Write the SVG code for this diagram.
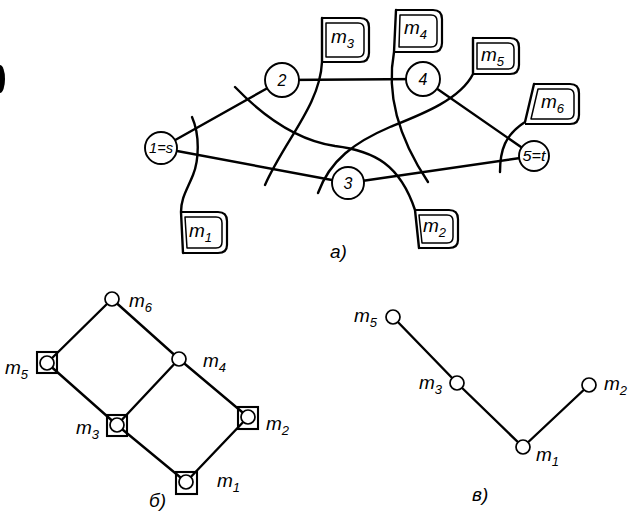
<svg xmlns="http://www.w3.org/2000/svg" width="634" height="516" viewBox="0 0 634 516">
<style>
.ln{fill:none;stroke:#000;stroke-width:2.4;stroke-linecap:round;stroke-linejoin:round}
.bx{fill:none;stroke:#000;stroke-width:2.2;stroke-linejoin:round}
.bi{fill:none;stroke:#000;stroke-width:1.5;stroke-linejoin:round}
.nd{fill:#fff;stroke:#000;stroke-width:1.9}
.sm{fill:#fff;stroke:#000;stroke-width:1.7}
.sq{fill:none;stroke:#000;stroke-width:2.1}
.t{font-family:"Liberation Sans",Arial,sans-serif;font-style:italic;fill:#000}
.m{font-size:19px}
.n{font-size:16px}
.ns{font-size:14px}
.s{font-size:13px}
</style>
<rect width="634" height="516" fill="#fff"/>
<ellipse cx="0" cy="79" rx="5" ry="14" fill="#000"/>

<g id="edges-a">
<line class="ln" x1="161" y1="148" x2="282" y2="80"/>
<line class="ln" x1="161" y1="148" x2="348" y2="183"/>
<line class="ln" x1="282" y1="80" x2="423" y2="79"/>
<line class="ln" x1="423" y1="79" x2="534" y2="156"/>
<line class="ln" x1="348" y1="183" x2="534" y2="156"/>
</g>

<g id="cuts">
<path class="ln" d="M192,117 C200,135 199,160 193,175 C187,190 181,198 181,212 L183,253"/>
<path class="ln" d="M235,87 C262,115 295,140 335,146 C375,151 400,165 415,210 L419,248"/>
<path class="ln" d="M322,18 L322,62 C320,105 285,140 265,185"/>
<path class="ln" d="M396,10 L394,52 C386,95 400,140 428,182"/>
<path class="ln" d="M473,38 L473,74 C460,100 420,115 390,127 C355,142 330,160 318,193"/>
<path class="ln" d="M534,84 L525,122 C505,135 500,150 500,172"/>
</g>

<g id="m1-box">
<path class="bx" d="M181,212 H218 Q227,212 227,221 V245 Q227,253 218,253 H183"/>
<path class="bi" d="M185,217 H216 Q222,217 222,223 V242 Q222,248 216,248 H187 Z"/>
<text class="t m" x="189" y="237">m<tspan class="s" dy="5">1</tspan></text>
</g>
<g id="m2-box">
<path class="bx" d="M415,210 H449 Q458,210 458,219 V240 Q458,248 449,248 H419"/>
<path class="bi" d="M419,215 H447 Q453,215 453,221 V237 Q453,243 447,243 H422 Z"/>
<text class="t m" x="423" y="232">m<tspan class="s" dy="5">2</tspan></text>
</g>
<g id="m3-box">
<path class="bx" d="M322,18 H360 Q369,18 369,27 V53 Q369,62 360,62 H322"/>
<path class="bi" d="M326,23 H358 Q364,23 364,29 V51 Q364,57 358,57 H326 Z"/>
<text class="t m" x="331" y="43">m<tspan class="s" dy="5">3</tspan></text>
</g>
<g id="m4-box">
<path class="bx" d="M396,10 H433 Q442,10 442,19 V43 Q442,52 433,52 H394"/>
<path class="bi" d="M400,15 H431 Q437,15 437,21 V41 Q437,47 431,47 H399 Z"/>
<text class="t m" x="404" y="34">m<tspan class="s" dy="5">4</tspan></text>
</g>
<g id="m5-box">
<path class="bx" d="M473,38 H510 Q519,38 519,47 V65 Q519,74 510,74 H473"/>
<path class="bi" d="M477,43 H508 Q514,43 514,49 V63 Q514,69 508,69 H477 Z"/>
<text class="t m" x="481" y="61">m<tspan class="s" dy="5">5</tspan></text>
</g>
<g id="m6-box">
<path class="bx" d="M534,84 H570 Q579,84 579,93 V115 Q579,124 570,124 H525"/>
<path class="bi" d="M538,89 H568 Q574,89 574,95 V113 Q574,119 568,119 H531 Z"/>
<text class="t m" x="541" y="108">m<tspan class="s" dy="5">6</tspan></text>
</g>

<g id="n1"><circle class="nd" cx="161" cy="148" r="16"/><text class="t ns" x="161" y="153" text-anchor="middle" textLength="24" lengthAdjust="spacingAndGlyphs">1=s</text></g>
<g id="n2"><circle class="nd" cx="282" cy="80" r="17"/><text class="t n" x="282" y="86" text-anchor="middle">2</text></g>
<g id="n3"><circle class="nd" cx="348" cy="183" r="16"/><text class="t n" x="348" y="189" text-anchor="middle">3</text></g>
<g id="n4"><circle class="nd" cx="423" cy="79" r="17"/><text class="t n" x="423" y="85" text-anchor="middle">4</text></g>
<g id="n5"><circle class="nd" cx="534" cy="156" r="15"/><text class="t ns" x="534" y="161" text-anchor="middle" textLength="23" lengthAdjust="spacingAndGlyphs">5=t</text></g>
<text class="t m" x="330" y="258">а)</text>

<g id="edges-b">
<line class="ln" x1="112" y1="299" x2="47" y2="363"/>
<line class="ln" x1="112" y1="299" x2="179" y2="359"/>
<line class="ln" x1="47" y1="363" x2="117" y2="425"/>
<line class="ln" x1="179" y1="359" x2="117" y2="425"/>
<line class="ln" x1="179" y1="359" x2="248" y2="417"/>
<line class="ln" x1="117" y1="425" x2="186" y2="482"/>
<line class="ln" x1="248" y1="417" x2="186" y2="482"/>
</g>
<g id="b-m6"><circle class="sm" cx="112" cy="299" r="7"/><text class="t m" x="129" y="307">m<tspan class="s" dy="5">6</tspan></text></g>
<g id="b-m4"><circle class="sm" cx="179" cy="359" r="7"/><text class="t m" x="203" y="367">m<tspan class="s" dy="5">4</tspan></text></g>
<g id="b-m5"><rect class="sq" x="37" y="352" width="20" height="21"/><circle class="sm" cx="47" cy="363" r="7"/><text class="t m" x="5" y="374">m<tspan class="s" dy="5">5</tspan></text></g>
<g id="b-m3"><rect class="sq" x="107" y="415" width="20" height="21"/><circle class="sm" cx="117" cy="425" r="7"/><text class="t m" x="76" y="434">m<tspan class="s" dy="5">3</tspan></text></g>
<g id="b-m2"><rect class="sq" x="238" y="407" width="20" height="22"/><circle class="sm" cx="248" cy="417" r="7"/><text class="t m" x="266" y="430">m<tspan class="s" dy="5">2</tspan></text></g>
<g id="b-m1"><rect class="sq" x="176" y="472" width="21" height="22"/><circle class="sm" cx="186" cy="482" r="7"/><text class="t m" x="217" y="487">m<tspan class="s" dy="5">1</tspan></text></g>
<text class="t m" x="149" y="507">б)</text>

<g id="edges-c">
<line class="ln" x1="393" y1="317" x2="457" y2="383"/>
<line class="ln" x1="457" y1="383" x2="523" y2="447"/>
<line class="ln" x1="523" y1="447" x2="589" y2="385"/>
</g>
<g id="c-m5"><circle class="sm" cx="393" cy="317" r="7"/><text class="t m" x="354" y="322">m<tspan class="s" dy="5">5</tspan></text></g>
<g id="c-m3"><circle class="sm" cx="457" cy="383" r="7"/><text class="t m" x="419" y="389">m<tspan class="s" dy="5">3</tspan></text></g>
<g id="c-m1"><circle class="sm" cx="523" cy="447" r="7"/><text class="t m" x="536" y="461">m<tspan class="s" dy="5">1</tspan></text></g>
<g id="c-m2"><circle class="sm" cx="589" cy="385" r="7"/><text class="t m" x="604" y="390">m<tspan class="s" dy="5">2</tspan></text></g>
<text class="t m" x="472" y="501">в)</text>
</svg>
